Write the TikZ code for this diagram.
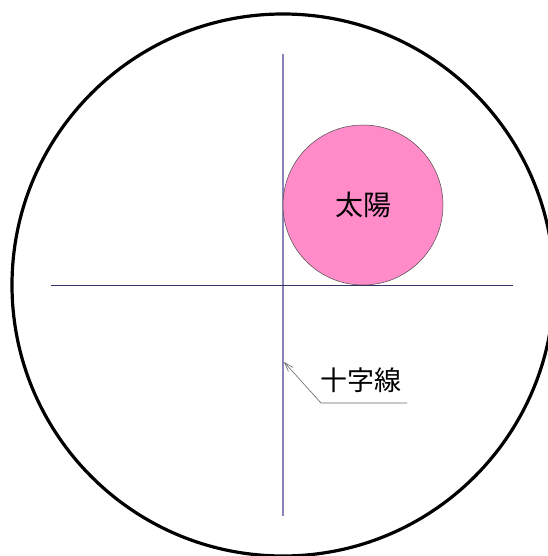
\documentclass[tikz,border=0pt]{standalone}
\usepackage{fontspec}
\newfontfamily\cjk{Noto Sans CJK JP}
\usetikzlibrary{arrows.meta}
\definecolor{vline}{HTML}{8884B8}
\definecolor{hline}{HTML}{34346A}
\definecolor{sunpink}{HTML}{FF8CC8}
\tikzset{
  field/.style={circle, draw=black, line width=3.2pt, minimum size=542pt, inner sep=0pt},
  sunbody/.style={circle, draw=black!70, line width=0.5pt, fill=sunpink, minimum size=160pt, inner sep=0pt, font=\cjk\fontsize{28}{28}\selectfont},
  lbltext/.style={inner sep=0pt, font=\cjk\fontsize{27}{27}\selectfont},
  leader/.style={draw=black!60, line width=0.6pt},
}
\begin{document}
\begin{tikzpicture}[x=1pt,y=-1pt]
\useasboundingbox (0,0) rectangle (547,556);
\fill[white] (0,0) rectangle (547,556);
\node[field] (view) at (283,285) {};
\coordinate (vtop) at (283,54);
\coordinate (vbot) at (283,516);
\coordinate (hleft) at (51,285);
\coordinate (hright) at (513,285);
\draw[vline, line width=1.1pt] (vtop) -- (vbot);
\draw[hline, line width=1pt] (hleft) -- (hright);
\node[sunbody] (sun) at (363,205) {太陽};
\node[lbltext, anchor=west] (lbl) at (320,380) {十字線};
\coordinate (tip) at (284,362);
\coordinate (bend) at (321,403);
\coordinate (lend) at (407,403);
\draw[leader, -{Straight Barb[length=9pt,width=6pt]}] (lend) -- (bend) -- (tip);
\end{tikzpicture}
\end{document}
